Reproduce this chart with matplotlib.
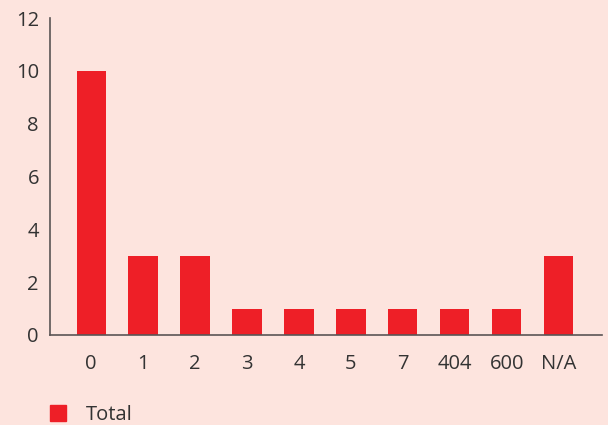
import matplotlib.pyplot as plt
from matplotlib.patches import Patch

plt.rcParams["font.family"] = ["Open Sans", "DejaVu Sans"]

categories = ["0", "1", "2", "3", "4", "5", "7", "404", "600", "N/A"]
totals = [10, 3, 3, 1, 1, 1, 1, 1, 1, 3]

BG = "#fde4de"
RED = "#ee1f27"
AXIS = "#5a5555"
TEXT = "#333333"

fig = plt.figure(figsize=(6.08, 4.25), dpi=100, facecolor=BG)
ax = fig.add_axes([50 / 608, 1 - 335 / 425, 552 / 608, 317 / 425], facecolor=BG)

x = list(range(len(categories)))
ax.bar(x, totals, width=0.56, color=RED, zorder=2)

ax.set_xlim(-0.79, len(categories) - 1 + 0.83)
ax.set_ylim(0, 12)
ax.set_yticks(range(0, 13, 2))
ax.set_xticks(x)
ax.set_xticklabels(categories)
ax.tick_params(axis="both", length=0, labelsize=14.5, colors=TEXT)
ax.tick_params(axis="x", pad=14)
ax.tick_params(axis="y", pad=8)

for side in ("top", "right"):
    ax.spines[side].set_visible(False)
for side in ("left", "bottom"):
    ax.spines[side].set_color(AXIS)
    ax.spines[side].set_linewidth(1.2)

fig.legend(handles=[Patch(color=RED, label="Total")], loc="lower left",
           bbox_to_anchor=(32 / 608, -18 / 425), frameon=False,
           fontsize=14.5, handlelength=0.8, handleheight=0.8, handletextpad=1.0,
           labelcolor=TEXT)

fig.savefig("out.png", dpi=100, facecolor=BG)
